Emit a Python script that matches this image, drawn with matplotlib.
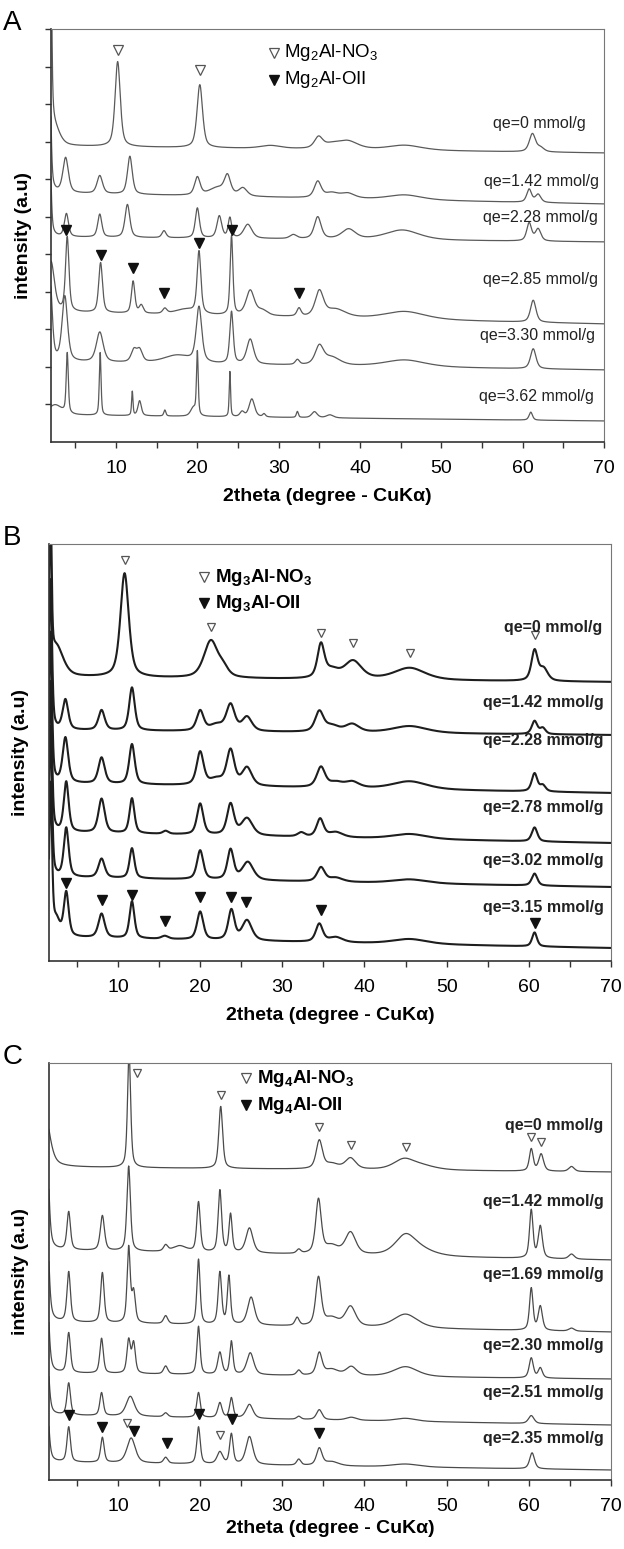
import numpy as np
import matplotlib
matplotlib.use("Agg")
import matplotlib.pyplot as plt

plt.rcParams["font.family"] = ["Liberation Sans", "DejaVu Sans"]
plt.rcParams["mathtext.fontset"] = "custom"
plt.rcParams["mathtext.rm"] = "Liberation Sans"
plt.rcParams["mathtext.bf"] = "Liberation Sans:bold"

# ---- panel A : Mg2Al ----
A_LABELS = ["qe=0 mmol/g", "qe=1.42 mmol/g", "qe=2.28 mmol/g",
            "qe=2.85 mmol/g", "qe=3.30 mmol/g", "qe=3.62 mmol/g"]
A_BASE = [(296, 289), (249, 238), (205, 200), (130, 118), (80, 72), (27, 21)]
# peaks per pattern: (2theta, height, fwhm)
A_PEAKS = [
    [(1.9, 400, 0.3), (2.5, 15, 1.5), (10.2, 85, 0.75), (20.3, 63, 0.8), (29.0, 3, 3),
     (34.9, 11, 1.2), (36.5, 4, 2.5), (38.5, 8, 3), (45.5, 5, 5), (61.2, 18, 0.9), (62.2, 4, 1)],
    [(1.8, 150, 0.4), (3.8, 35, 0.8), (8.0, 18, 0.8), (11.7, 38, 0.7), (20.0, 18, 0.8),
     (22.5, 8, 2.5), (23.7, 18, 0.9), (25.6, 8, 1.2), (34.8, 16, 1.0), (36.5, 5, 2),
     (38.5, 5, 2), (45.5, 5, 5), (60.8, 13, 0.7), (61.9, 8, 0.8)],
    [(1.8, 120, 0.4), (3.9, 23, 0.6), (8.0, 23, 0.6), (11.4, 33, 0.7), (15.9, 7, 0.6),
     (20.0, 30, 0.6), (22.7, 22, 0.7), (24.0, 20, 0.5), (26.2, 14, 1.2), (31.8, 4, 1),
     (34.8, 22, 1.0), (38.6, 10, 2), (45.2, 10, 5), (60.8, 18, 0.7), (61.9, 12, 0.8)],
    [(2.0, 50, 1.0), (4.0, 74, 0.5), (8.1, 50, 0.55), (12.1, 32, 0.5), (13.1, 8, 0.6),
     (16.0, 5, 0.6), (18.5, 5, 3), (20.2, 62, 0.55), (24.2, 79, 0.4), (26.5, 25, 1.2),
     (28.0, 5, 1.5), (32.5, 8, 0.6), (35.0, 25, 1.2), (37.0, 8, 3), (45.5, 8, 6), (61.3, 22, 0.8)],
    [(1.9, 80, 0.6), (3.7, 65, 0.8), (8.0, 30, 1.0), (12.2, 12, 0.8), (12.9, 12, 0.8),
     (17.5, 8, 4), (20.2, 55, 0.8), (24.2, 52, 0.5), (26.5, 25, 1.0), (32.3, 5, 0.6),
     (35.0, 18, 1.2), (36.5, 8, 2.5), (45.5, 7, 6), (61.3, 20, 0.8)],
    [(2.5, 10, 2), (4.0, 60, 0.3), (8.05, 63, 0.25), (12.0, 24, 0.2), (12.9, 15, 0.5),
     (16.0, 6, 0.3), (19.5, 8, 0.8), (20.0, 63, 0.25), (24.0, 45, 0.2), (25.5, 5, 0.6),
     (26.7, 18, 0.8), (28.2, 3, 0.4), (32.3, 6, 0.3), (34.4, 6, 0.8), (36.3, 3, 1), (61.0, 8, 0.5)],
]
A_LABEL_Y = [318, 260, 224, 162, 106, 45]
A_LABEL_X = [67.7, 69.4, 69.3, 69.3, 68.9, 68.8]
A_OPEN = [(10.2, 392), (20.3, 372)]
A_SOLID = [(3.9, 212), (8.1, 187), (12.1, 174), (15.9, 149), (20.2, 199), (24.2, 212), (32.5, 149)]

# ---- panel B : Mg3Al ----
B_LABELS = ["qe=0 mmol/g", "qe=1.42 mmol/g", "qe=2.28 mmol/g",
            "qe=2.78 mmol/g", "qe=3.02 mmol/g", "qe=3.15 mmol/g"]
B_BASE = [(284, 279), (231, 226), (178, 168), (129, 118), (84, 74), (24, 13)]
B_PEAKS = [
    [(1.8, 150, 0.3), (2.5, 30, 2.0), (10.8, 104, 1.2), (21.3, 37, 2.0), (22.8, 8, 1.5),
     (34.7, 33, 1.0), (36.0, 8, 2), (38.6, 18, 2.5), (45.5, 12, 4.5), (60.7, 30, 0.9), (61.8, 12, 1.2)],
    [(1.8, 150, 0.4), (3.6, 30, 0.8), (8.0, 20, 0.9), (11.7, 43, 0.8), (20.0, 20, 1.0),
     (22.0, 6, 2), (23.7, 26, 1.2), (25.7, 14, 1.4), (34.5, 20, 1.2), (36.0, 6, 2),
     (38.5, 8, 2), (45.5, 7, 5), (60.7, 13, 0.8), (61.7, 6, 0.8)],
    [(1.8, 150, 0.4), (3.6, 45, 0.8), (8.0, 26, 0.9), (11.7, 40, 0.8), (20.0, 33, 1.0),
     (22.0, 6, 2), (23.7, 35, 1.1), (25.7, 18, 1.4), (34.7, 20, 1.2), (36.5, 5, 2),
     (38.5, 6, 2), (45.5, 8, 5), (60.7, 18, 0.8), (61.7, 6, 0.8)],
    [(1.8, 150, 0.4), (3.7, 50, 0.7), (8.0, 34, 0.9), (11.7, 35, 0.7), (15.8, 3, 0.8),
     (20.0, 31, 0.9), (23.7, 31, 1.0), (25.7, 17, 1.6), (32.3, 4, 1), (34.6, 18, 1.0),
     (36.5, 5, 2), (45.5, 5, 5), (60.7, 14, 0.8)],
    [(1.8, 150, 0.4), (3.7, 49, 0.7), (8.0, 19, 0.9), (11.7, 30, 0.7), (20.0, 29, 0.9),
     (23.7, 30, 0.9), (25.8, 18, 1.6), (34.7, 14, 1.1), (36.5, 4, 2), (45.5, 4, 5), (60.7, 12, 0.8)],
    [(1.8, 150, 0.4), (2.5, 15, 1), (3.7, 44, 0.7), (8.0, 24, 0.9), (11.7, 37, 0.7),
     (15.7, 3, 1), (20.0, 28, 0.9), (23.8, 30, 0.9), (25.7, 20, 1.4), (34.5, 18, 1.0),
     (36.5, 5, 2), (45.5, 5, 5), (60.7, 14, 0.7)],
]
B_LABEL_Y = [334, 259, 221, 154, 101, 54]
B_LABEL_X = [69.0, 69.1, 69.1, 69.1, 69.1, 69.1]
B_OPEN = [(10.8, 401), (21.3, 334), (34.7, 328), (38.6, 318), (45.5, 308), (60.7, 326)]
B_SOLID = [(3.7, 78), (8.0, 61), (11.7, 66), (15.7, 40), (20.0, 64), (23.8, 64),
           (25.6, 59), (34.7, 51), (60.7, 38)]

# ---- panel C : Mg4Al ----
C_LABELS = ["qe=0 mmol/g", "qe=1.42 mmol/g", "qe=1.69 mmol/g",
            "qe=2.30 mmol/g", "qe=2.51 mmol/g", "qe=2.35 mmol/g"]
C_BASE = [(313, 308), (230, 220), (158, 148), (107, 101), (65, 55), (18, 10)]
C_PEAKS = [
    [(1.0, 60, 1.5), (11.35, 115, 0.45), (22.5, 62, 0.55), (34.5, 28, 0.9), (36.0, 5, 2),
     (38.3, 11, 1.5), (44.8, 10, 3), (47.0, 4, 4), (60.3, 22, 0.55), (61.5, 17, 0.7), (65.2, 5, 0.8)],
    [(1.3, 120, 0.6), (4.0, 38, 0.5), (8.1, 35, 0.6), (11.3, 85, 0.5), (15.8, 6, 0.6),
     (17.5, 6, 2), (19.8, 50, 0.5), (22.4, 62, 0.5), (23.7, 38, 0.45), (26.0, 25, 1.0),
     (32.0, 4, 0.6), (34.4, 54, 0.8), (36.0, 8, 2), (38.3, 22, 1.5), (45.0, 20, 3.0),
     (47.0, 5, 4), (60.3, 48, 0.5), (61.4, 32, 0.6), (65.2, 5, 0.8)],
    [(1.3, 120, 0.6), (4.0, 50, 0.5), (8.1, 50, 0.5), (11.3, 75, 0.45), (11.9, 30, 0.5),
     (15.8, 8, 0.6), (19.8, 65, 0.45), (22.4, 52, 0.5), (23.5, 48, 0.45), (26.2, 28, 1.0),
     (31.8, 8, 0.6), (34.4, 48, 0.8), (36.0, 8, 2), (38.3, 20, 1.5), (45.0, 14, 3.5),
     (60.3, 42, 0.5), (61.4, 24, 0.6), (65.2, 3, 0.8)],
    [(1.3, 100, 0.6), (4.0, 40, 0.5), (8.0, 35, 0.5), (11.3, 33, 0.5), (11.9, 30, 0.5),
     (15.8, 8, 0.6), (19.8, 48, 0.45), (22.4, 22, 0.6), (23.8, 33, 0.45), (26.1, 22, 1.0),
     (32.0, 5, 0.6), (34.5, 22, 0.8), (36.0, 6, 2), (38.4, 9, 1.5), (45.0, 10, 3.5),
     (60.3, 20, 0.6), (61.4, 10, 0.6)],
    [(1.3, 76, 0.6), (4.0, 32, 0.5), (8.0, 23, 0.5), (11.5, 20, 1.2), (15.8, 4, 0.6),
     (19.8, 25, 0.5), (22.4, 15, 0.6), (23.8, 20, 0.5), (26.0, 14, 1.0), (32.0, 3, 0.6),
     (34.5, 10, 0.8), (38.4, 3, 1.5), (45.0, 3, 3), (60.3, 8, 0.8)],
    [(1.3, 70, 0.6), (4.0, 35, 0.5), (8.1, 25, 0.5), (11.6, 25, 1.2), (15.8, 6, 0.6),
     (19.8, 37, 0.5), (22.4, 12, 0.8), (23.8, 30, 0.5), (26.0, 28, 1.0), (32.0, 6, 0.6),
     (34.5, 17, 0.8), (36.0, 4, 2), (45.0, 3, 4), (60.4, 16, 0.7)],
]
C_LABEL_Y = [354, 278, 205, 134, 87, 41]
C_LABEL_X = [69.1, 69.1, 69.1, 69.1, 69.1, 69.1]
C_OPEN = [(12.3, 407), (22.5, 385), (34.5, 353), (38.3, 335), (45.0, 333), (60.3, 343),
          (61.5, 338), (11.1, 57), (22.4, 45)]
C_SOLID = [(4.0, 65), (8.1, 53), (12.0, 49), (16.0, 37), (19.9, 66), (23.9, 61), (34.5, 47)]


def pattern(x, base, peaks):
    y = np.linspace(base[0], base[1], x.size)
    for c, h, w in peaks:
        d = (x - c) / (w / 2)
        y = y + h * (0.55 / (1 + d ** 2) + 0.45 * np.exp(-np.log(2) * d ** 2))
    return y


def panel(fig, rect, xmin, height, labels, bases, peaks, label_x, label_y, opens, solids,
          lcolor, lw, bold, n, letter, yticks, xlab_y):
    ax = fig.add_axes(rect)
    x = np.arange(xmin, 70.001, 0.02)
    for b, p in zip(bases, peaks):
        ax.plot(x, pattern(x, b, p), color=lcolor, lw=lw)
    wt = "bold" if bold else "normal"
    for s, lx_, ly_ in zip(labels, label_x, label_y):
        ax.text(lx_, ly_, s, ha="right", va="center", fontsize=11.5, fontweight=wt, color="#222")
    ox, oy = zip(*opens)
    ax.plot(ox, oy, "v", ms=7 if not bold else 6, mfc="white", mec="#555", mew=0.9, ls="none")
    sx, sy = zip(*solids)
    ax.plot(sx, sy, "v", ms=6.5, mfc="#111", mec="#111", ls="none")

    ax.set_xlim(xmin, 70)
    ax.set_ylim(0, height)
    ax.set_xticks(range(10, 71, 10))
    ax.set_xticks(range(5, 70, 10), minor=True)
    ax.tick_params(axis="x", which="both", direction="out", length=4, width=1,
                   labelsize=14, pad=9, color="#333")
    if yticks:
        ax.set_yticks(np.arange(37.5, height, 37.5))
        ax.tick_params(axis="y", direction="out", length=4, width=1, color="#333", labelleft=False)
    else:
        ax.set_yticks([])
    for side in ("top", "right"):
        ax.spines[side].set_color("#777")
    for side in ("left", "bottom"):
        ax.spines[side].set_color("#333")
        ax.spines[side].set_linewidth(1.2)

    ax.set_xlabel("2theta (degree - CuKα)", fontsize=14, fontweight="bold")
    ax.xaxis.set_label_coords(0.5, xlab_y)
    ax.set_ylabel("intensity (a.u)", fontsize=14, fontweight="bold")
    ax.yaxis.set_label_coords(-0.035, 0.5)

    # phase key
    lx, ly = legend_pos[letter]
    sub = (r"$_\mathbf{%d}$" if bold else r"$_{%d}$") % n
    ax.plot([lx], [ly[0]], "v", ms=7, mfc="white", mec="#555", mew=0.9)
    ax.plot([lx], [ly[1]], "v", ms=7, mfc="#111", mec="#111")
    ax.text(lx + 1.3, ly[0], "Mg" + sub + "Al-NO" + sub.replace(str(n), "3"),
            fontsize=13.5, fontweight=wt, va="center", ha="left")
    ax.text(lx + 1.3, ly[1], "Mg" + sub + "Al-OII", fontsize=13.5, fontweight=wt,
            va="center", ha="left")
    fig.text(0.004, rect[1] + rect[3] + 0.004, letter, fontsize=20,
             ha="left", va="center")
    return ax


legend_pos = {"A": (29.4, (389, 362)), "B": (20.5, (384, 358)), "C": (25.6, (402, 375))}

fig = plt.figure(figsize=(6.24, 15.49), dpi=100)
panel(fig, [0.0817, 0.7147, 0.8862, 0.2666], 2.0, 413, A_LABELS, A_BASE, A_PEAKS,
      A_LABEL_X, A_LABEL_Y, A_OPEN, A_SOLID, "#5a5a5a", 0.9, False, 2, "A", True, -0.112)
panel(fig, [0.0785, 0.3796, 0.9006, 0.2692], 1.6, 417, B_LABELS, B_BASE, B_PEAKS,
      B_LABEL_X, B_LABEL_Y, B_OPEN, B_SOLID, "#1e1e1e", 1.5, True, 3, "B", False, -0.110)
panel(fig, [0.0785, 0.04455, 0.9006, 0.2692], 1.6, 417, C_LABELS, C_BASE, C_PEAKS,
      C_LABEL_X, C_LABEL_Y, C_OPEN, C_SOLID, "#4a4a4a", 0.9, True, 4, "C", False, -0.096)
fig.savefig("out.png", dpi=100)
